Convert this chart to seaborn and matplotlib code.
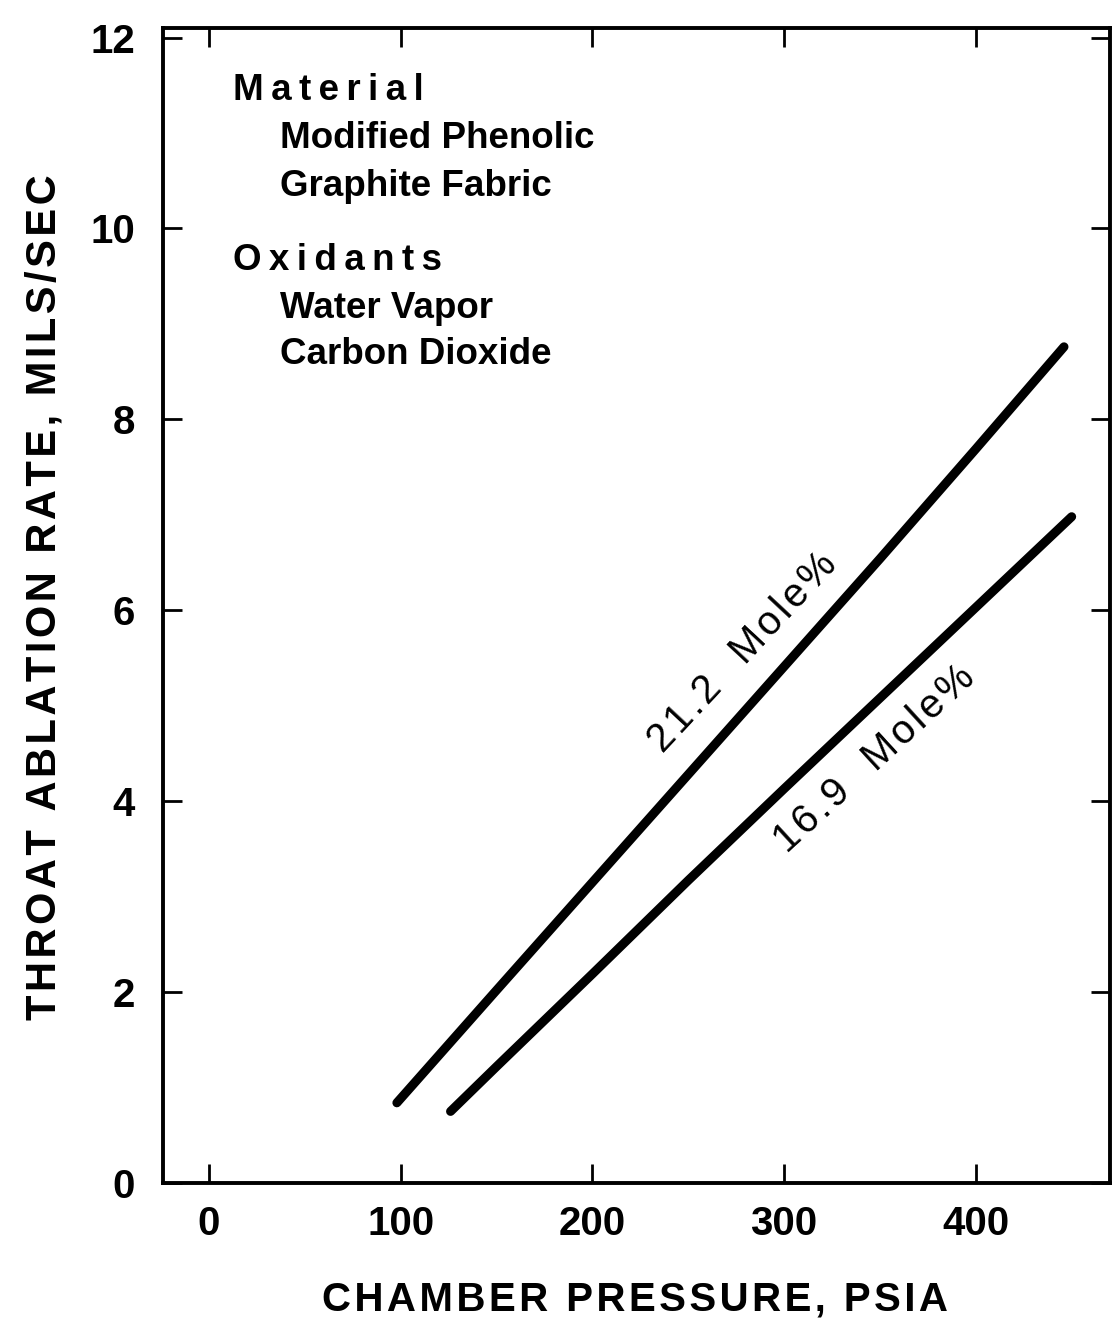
import matplotlib
matplotlib.use("Agg")
import matplotlib.pyplot as plt
import seaborn as sns
import pandas as pd

# ---- data ----
x_212 = [98, 150, 200, 250, 300, 350, 400, 446]
y_212 = [0.84, 2.02, 3.15, 4.28, 5.41, 6.54, 7.69, 8.76]
x_169 = [126, 150, 200, 250, 300, 350, 400, 450]
y_169 = [0.75, 1.22, 2.19, 3.17, 4.13, 5.08, 6.03, 6.98]
series_labels = ["21.2 Mole%", "16.9 Mole%"]
x_ticks = [0, 100, 200, 300, 400]
y_ticks = [0, 2, 4, 6, 8, 10, 12]
x_label = "CHAMBER PRESSURE, PSIA"
y_label = "THROAT ABLATION RATE, MILS/SEC"
material_head = "Material"
material_items = ["Modified Phenolic", "Graphite Fabric"]
oxidant_head = "Oxidants"
oxidant_items = ["Water Vapor", "Carbon Dioxide"]

HAIR = "\u200a"
THIN = "\u2009"


def spaced(s, sep):
    return sep.join(s)


df = pd.concat([
    pd.DataFrame({"p": x_212, "rate": y_212, "s": series_labels[0]}),
    pd.DataFrame({"p": x_169, "rate": y_169, "s": series_labels[1]}),
])

sns.set_theme(style="white")
FAM = ["Liberation Sans", "DejaVu Sans"]
plt.rcParams["font.family"] = FAM

fig = plt.figure(figsize=(11.12, 13.2), dpi=100)
ax = fig.add_axes([163 / 1112, 1 - 1183 / 1320, (1110 - 163) / 1112, (1183 - 28) / 1320])

sns.lineplot(data=df, x="p", y="rate", units="s", estimator=None, color="black",
             linewidth=6.5, ax=ax, legend=False, sort=False,
             solid_capstyle="round")

ax.set_xlim(-24, 470)
ax.set_ylim(0, 12.1)
ax.set_xticks(x_ticks)
ax.set_yticks(y_ticks)
ax.set_xticklabels([str(v) for v in x_ticks], fontweight="bold")
ax.set_yticklabels([str(v) for v in y_ticks], fontweight="bold")

for sp in ax.spines.values():
    sp.set_visible(True)
    sp.set_color("black")
    sp.set_linewidth(2.8)

ax.tick_params(axis="both", direction="in", length=14, width=2, color="black",
               labelsize=29, labelcolor="black")
ax.tick_params(axis="x", top=True, bottom=True, pad=16)
ax.tick_params(axis="y", left=True, right=True, pad=20)

ax.set_xlabel(spaced(x_label, HAIR), fontsize=29, fontweight="bold", color="black")
ax.set_ylabel(spaced(y_label, HAIR), fontsize=30, fontweight="bold", color="black")
ax.xaxis.set_label_coords(0.498, -0.084)
ax.yaxis.set_label_coords(-0.1045, 0.507)

# text block
tk = dict(fontsize=26.5, fontweight="bold", va="center", ha="left", color="black")
ax.text(12.5, 11.44, spaced(material_head, THIN), **tk)
ax.text(37, 10.94, material_items[0], **tk)
ax.text(37, 10.44, material_items[1], **tk)
ax.text(12.5, 9.66, spaced(oxidant_head, THIN), **tk)
ax.text(37, 9.16, oxidant_items[0], **tk)
ax.text(37, 8.68, oxidant_items[1], **tk)

# curve labels
lab = [spaced(s.replace(" ", "  "), HAIR) for s in series_labels]
ax.text(278.5, 5.56, lab[0], fontsize=29, rotation=47,
        rotation_mode="anchor", ha="center", va="center", color="black")
ax.text(347, 4.44, lab[1], fontsize=29, rotation=42.5,
        rotation_mode="anchor", ha="center", va="center", color="black")

fig.savefig("out.png", dpi=100, facecolor="white")
